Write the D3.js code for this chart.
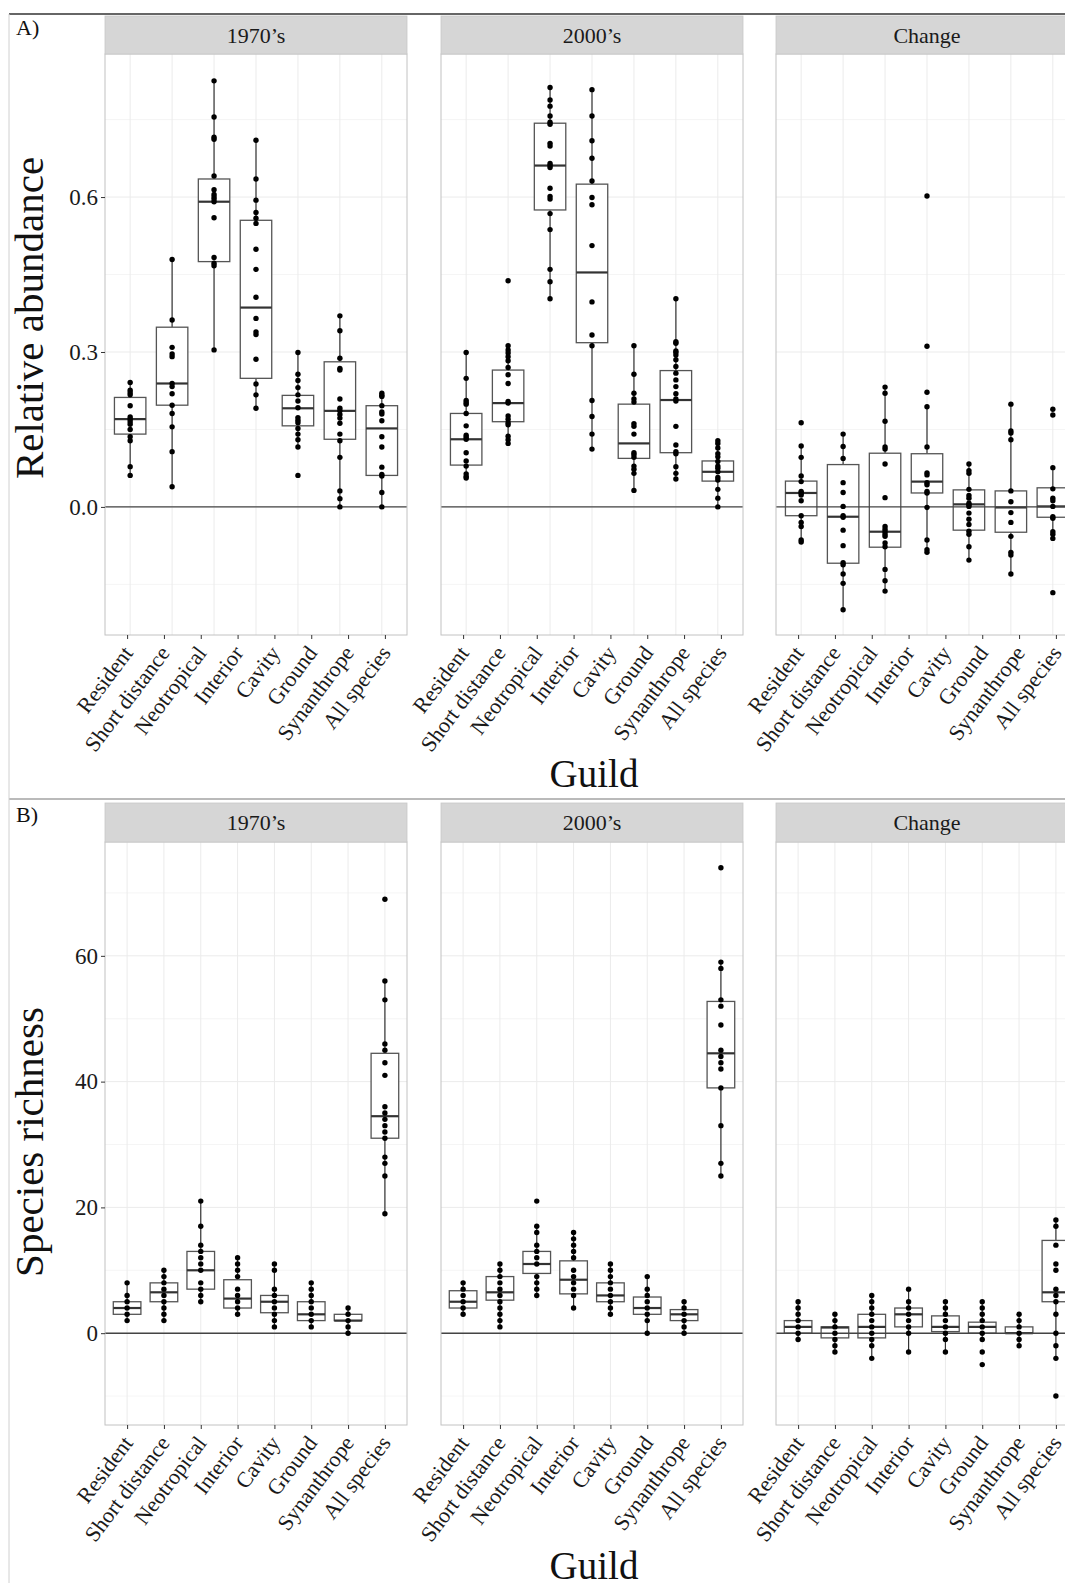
<!DOCTYPE html>
<html><head><meta charset="utf-8">
<script src="https://cdn.jsdelivr.net/npm/d3@7"></script>
<style>body{margin:0;background:#fff;overflow:hidden} svg{display:block;overflow:hidden}</style>
</head><body><svg id="c" width="1065" height="1583"></svg>
<script>
// ---------------- DATA ----------------
const guildsAll = ["Resident","Short distance","Neotropical","Interior","Cavity","Ground","Synanthrope","All species"];
const guildsAbund = ["Resident","Short distance","Neotropical","Interior","Cavity","Ground","Synanthrope"];
const facetLabels = ["1970\u2019s","2000\u2019s","Change"];
const abundTicks = [0, 0.3, 0.6];
const abundMinor = [-0.15, 0.15, 0.45, 0.75];
const richTicks = [0, 20, 40, 60];
const richMinor = [-10, 10, 30, 50, 70];

// box stats: [lower whisker, q1, median, q3, upper whisker]
const abund1970Box = [[0.061,0.141,0.170,0.212,0.241],[0.039,0.197,0.239,0.348,0.479],[0.304,0.475,0.591,0.635,0.825],[0.191,0.249,0.386,0.555,0.710],[0.116,0.157,0.191,0.216,0.299],[0.0,0.131,0.186,0.281,0.370],[0.0,0.061,0.152,0.196,0.220]];
const abund1970Pts = [
 [0.241,0.226,0.221,0.217,0.196,0.174,0.170,0.165,0.160,0.150,0.136,0.128,0.078,0.061],
 [0.479,0.362,0.309,0.296,0.291,0.239,0.233,0.219,0.197,0.181,0.155,0.107,0.039],
 [0.825,0.755,0.716,0.712,0.641,0.614,0.605,0.600,0.596,0.591,0.560,0.483,0.472,0.467,0.304],
 [0.710,0.635,0.594,0.570,0.559,0.549,0.499,0.460,0.406,0.365,0.339,0.334,0.286,0.238,0.217,0.191],
 [0.299,0.257,0.245,0.231,0.217,0.205,0.192,0.173,0.168,0.163,0.152,0.141,0.130,0.116,0.061],
 [0.370,0.341,0.288,0.268,0.265,0.209,0.191,0.186,0.179,0.172,0.162,0.141,0.128,0.096,0.031,0.016,0.0],
 [0.220,0.216,0.214,0.196,0.184,0.180,0.167,0.136,0.116,0.077,0.063,0.060,0.028,0.0]];
const abund2000Box = [[0.056,0.081,0.131,0.181,0.299],[0.123,0.165,0.201,0.265,0.312],[0.403,0.575,0.661,0.743,0.812],[0.112,0.318,0.454,0.625,0.808],[0.032,0.094,0.123,0.199,0.312],[0.054,0.105,0.207,0.264,0.403],[0.0,0.050,0.068,0.089,0.128]];
const abund2000Pts = [
 [0.299,0.249,0.206,0.202,0.199,0.181,0.157,0.139,0.135,0.131,0.105,0.089,0.079,0.064,0.059,0.056],
 [0.438,0.312,0.304,0.298,0.291,0.283,0.270,0.256,0.239,0.204,0.201,0.176,0.170,0.163,0.159,0.137,0.130,0.123],
 [0.812,0.788,0.776,0.757,0.745,0.741,0.704,0.699,0.665,0.661,0.657,0.617,0.601,0.596,0.568,0.537,0.460,0.436,0.403],
 [0.808,0.757,0.709,0.675,0.631,0.599,0.585,0.506,0.397,0.333,0.312,0.206,0.175,0.141,0.112],
 [0.312,0.257,0.220,0.209,0.203,0.161,0.156,0.141,0.105,0.101,0.096,0.079,0.073,0.065,0.032],
 [0.403,0.320,0.317,0.302,0.299,0.294,0.285,0.272,0.259,0.246,0.233,0.219,0.209,0.205,0.156,0.120,0.107,0.103,0.078,0.065,0.054],
 [0.128,0.123,0.114,0.103,0.097,0.088,0.079,0.075,0.068,0.057,0.052,0.034,0.017,0.0]];
const abundChangeBox = [[-0.068,-0.017,0.027,0.050,0.118],[-0.199,-0.109,-0.019,0.082,0.141],[-0.163,-0.078,-0.048,0.104,0.232],[-0.088,0.027,0.049,0.103,0.194],[-0.103,-0.045,0.005,0.033,0.083],[-0.130,-0.049,-0.001,0.031,0.199],[-0.061,-0.020,0.001,0.037,0.076]];
const abundChangePts = [
 [0.163,0.118,0.096,0.060,0.049,0.030,0.027,0.023,0.012,-0.017,-0.030,-0.038,-0.064,-0.068],
 [0.141,0.117,0.094,0.047,0.028,0.001,-0.017,-0.020,-0.045,-0.075,-0.108,-0.112,-0.130,-0.148,-0.199],
 [0.232,0.220,0.166,0.116,0.112,0.083,0.018,-0.038,-0.043,-0.048,-0.053,-0.057,-0.070,-0.077,-0.121,-0.143,-0.163],
 [0.602,0.311,0.222,0.194,0.116,0.066,0.062,0.047,0.043,0.030,0.027,-0.001,-0.064,-0.083,-0.088],
 [0.083,0.070,0.065,0.034,0.022,0.017,0.007,0.004,0.001,-0.012,-0.024,-0.034,-0.047,-0.053,-0.077,-0.103],
 [0.199,0.147,0.143,0.130,0.031,0.010,-0.011,-0.030,-0.057,-0.088,-0.093,-0.130],
 [0.189,0.178,0.076,0.035,0.017,0.012,0.001,-0.019,-0.022,-0.048,-0.053,-0.061,-0.166]];

const rich1970Box = [[2,3,4,5,8],[2,5,6.5,8,10],[5,7,10,13,21],[3,4,5.5,8.5,12],[1,3.25,5,6,11],[1,2,3,5,8],[0,2,2,3,4],[19,31,34.5,44.5,56]];
const rich1970Pts = [[8,6,5,4,3,2],[10,9,8,7,6,5,4,3,2],[21,17,14,13,12,11,10,8,7,6,5],[12,11,10,9,7,6,5,4,3],[11,10,7,6,5,4,3,2,1],[8,7,6,5,4,3,2,1],[4,3,2,1,0],[69,56,53,46,45,43,41,36,35,34,33,32,31,28,27,25,19]];
const rich2000Box = [[3,4,5,6.75,8],[1,5.25,6.5,9,11],[6,9.5,11,13,17],[4,6.25,8.5,11.5,16],[3,5,6,8,11],[0,3,4,5.75,9],[0,2,3,3.75,5],[25,39,44.5,52.75,59]];
const rich2000Pts = [[8,7,6,5,4,3],[11,10,9,8,7,6,5,4,3,2,1],[21,17,16,14,13,12,11,9,8,7,6],[16,15,14,13,12,10,9,8,7,6,4],[11,10,9,8,7,6,5,4,3],[9,7,6,5,4,3,2,0],[5,4,3,2,1,0],[74,59,58,53,52,49,45,44,43,42,39,33,27,25]];
const richChangeBox = [[-1,0,1,2,5],[-3,-0.75,0.9,1,3],[-4,-0.75,1,3,6],[-3,1,3,4,7],[-3,0.25,1,2.75,5],[-1,0,1,1.75,5],[-2,0,0,1,3],[-4,5,6.5,14.75,18]];
const richChangePts = [[5,4,3,2,1,0,-1],[3,2,1,0,-1,-2,-3],[6,5,4,3,2,1,0,-1,-2,-4],[7,5,4,3,2,1,0,-3],[5,4,3,2,1,0,-1,-3],[5,4,3,2,1,0,-1,-3,-5],[3,2,1,0,-1,-2],[18,17,14,11,10,7,6,5,3,0,-2,-4,-10]];

// ---------------- LAYOUT ----------------
const svg = d3.select("#c");
const FONT = "'Liberation Serif','Times New Roman',serif";
const facetX = [105, 441, 776];
const PW = 302;

const rows = [
  {tag:"A)", tagY:35, stripTop:16, plotTop:54, plotBottom:635,
   domain:[-0.248, 0.877], ticks:abundTicks, minor:abundMinor, fmt:d3.format(".1f"),
   cats:guildsAbund, title:"Relative abundance", titleY:318, guildY:787,
   facets:[[abund1970Box,abund1970Pts],[abund2000Box,abund2000Pts],[abundChangeBox,abundChangePts]]},
  {tag:"B)", tagY:822, stripTop:803, plotTop:842, plotBottom:1425,
   domain:[-14.6, 78.1], ticks:richTicks, minor:richMinor, fmt:d3.format("d"),
   cats:guildsAll, title:"Species richness", titleY:1142, guildY:1579,
   facets:[[rich1970Box,rich1970Pts],[rich2000Box,rich2000Pts],[richChangeBox,richChangePts]]}
];

// outer frame
svg.append("line").attr("x1",9).attr("x2",1065).attr("y1",14).attr("y2",14).attr("stroke","#333").attr("stroke-width",1.5);
svg.append("line").attr("x1",9).attr("x2",1065).attr("y1",799).attr("y2",799).attr("stroke","#777").attr("stroke-width",1.2);
svg.append("line").attr("x1",9).attr("x2",9).attr("y1",14).attr("y2",1583).attr("stroke","#d0d0d0").attr("stroke-width",1);

rows.forEach(row => {
  const y = d3.scaleLinear().domain(row.domain).range([row.plotBottom, row.plotTop]);
  const g = svg.append("g");
  g.append("text").attr("x",16).attr("y",row.tagY).attr("font-family",FONT).attr("font-size",22).attr("fill","#111").text(row.tag);
  g.append("text").attr("transform",`translate(43,${row.titleY}) rotate(-90)`).attr("text-anchor","middle")
    .attr("font-family",FONT).attr("font-size",41).attr("fill","#111").text(row.title);
  g.append("text").attr("x",594).attr("y",row.guildY).attr("text-anchor","middle")
    .attr("font-family",FONT).attr("font-size",39).attr("fill","#111").text("Guild");

  row.facets.forEach((fd, fi) => {
    const [boxes, pts] = fd;
    const x0 = facetX[fi];
    const xm = d3.scalePoint().domain(row.cats).range([x0, x0+PW]).padding(0.6);
    const xt = d3.scalePoint().domain(guildsAll).range([x0, x0+PW]).padding(0.6);
    const bw = xm.step()*0.75;
    const p = g.append("g");
    // grid
    p.selectAll(".mn").data(row.minor).join("line").attr("x1",x0).attr("x2",x0+PW)
      .attr("y1",d=>y(d)).attr("y2",d=>y(d)).attr("stroke","#f3f3f3").attr("stroke-width",0.8);
    p.selectAll(".mj").data(row.ticks).join("line").attr("x1",x0).attr("x2",x0+PW)
      .attr("y1",d=>y(d)).attr("y2",d=>y(d)).attr("stroke","#ebebeb").attr("stroke-width",1);
    p.selectAll(".vg").data(row.cats).join("line").attr("x1",d=>xm(d)).attr("x2",d=>xm(d))
      .attr("y1",row.plotTop).attr("y2",row.plotBottom).attr("stroke","#ebebeb").attr("stroke-width",1);
    // boxes
    const bg = p.selectAll(".bx").data(boxes).join("g");
    bg.append("line").attr("x1",(d,i)=>xm(row.cats[i])).attr("x2",(d,i)=>xm(row.cats[i]))
      .attr("y1",d=>y(d[4])).attr("y2",d=>y(d[3])).attr("stroke","#333").attr("stroke-width",1.2);
    bg.append("line").attr("x1",(d,i)=>xm(row.cats[i])).attr("x2",(d,i)=>xm(row.cats[i]))
      .attr("y1",d=>y(d[1])).attr("y2",d=>y(d[0])).attr("stroke","#333").attr("stroke-width",1.2);
    bg.append("rect").attr("x",(d,i)=>xm(row.cats[i])-bw/2).attr("width",bw)
      .attr("y",d=>y(d[3])).attr("height",d=>y(d[1])-y(d[3]))
      .attr("fill","#fff").attr("stroke","#555").attr("stroke-width",1.3);
    bg.append("line").attr("x1",(d,i)=>xm(row.cats[i])-bw/2).attr("x2",(d,i)=>xm(row.cats[i])+bw/2)
      .attr("y1",d=>y(d[2])).attr("y2",d=>y(d[2])).attr("stroke","#333").attr("stroke-width",2.2);
    // zero line
    p.append("line").attr("x1",x0).attr("x2",x0+PW).attr("y1",y(0)).attr("y2",y(0)).attr("stroke","#444").attr("stroke-width",1.4);
    // points
    pts.forEach((arr, ci) => {
      p.selectAll(null).data(arr).join("circle").attr("cx",xm(row.cats[ci])).attr("cy",d=>y(d))
        .attr("r",2.7).attr("fill","#000");
    });
    // border
    p.append("rect").attr("x",x0).attr("y",row.plotTop).attr("width",PW).attr("height",row.plotBottom-row.plotTop)
      .attr("fill","none").attr("stroke","#c2c2c2").attr("stroke-width",1);
    // strip
    p.append("rect").attr("x",x0).attr("y",row.stripTop).attr("width",PW).attr("height",row.plotTop-row.stripTop)
      .attr("fill","#d6d6d6").attr("stroke","#c8c8c8").attr("stroke-width",0.8);
    p.append("text").attr("x",x0+PW/2).attr("y",(row.stripTop+row.plotTop)/2).attr("dy","0.35em")
      .attr("text-anchor","middle").attr("font-family",FONT).attr("font-size",22).attr("fill","#1a1a1a").text(facetLabels[fi]);
    // x axis
    const ax = p.append("g").attr("transform",`translate(0,${row.plotBottom})`)
      .call(d3.axisBottom(xt).tickSize(4).tickSizeOuter(0));
    ax.select(".domain").remove();
    ax.selectAll(".tick line").attr("stroke","#333");
    ax.selectAll(".tick text").attr("font-family",FONT).attr("font-size",22).attr("fill","#1a1a1a")
      .attr("text-anchor","end").attr("y",0).attr("dy","0.7em")
      .attr("transform","translate(-6,9) rotate(-53)");
    // y axis
    if (fi === 0) {
      const ay = p.append("g").attr("transform",`translate(${x0},0)`)
        .call(d3.axisLeft(y).tickValues(row.ticks).tickFormat(row.fmt).tickSize(4).tickSizeOuter(0));
      ay.select(".domain").remove();
      ay.selectAll(".tick line").attr("stroke","#333");
      ay.selectAll(".tick text").attr("font-family",FONT).attr("font-size",23).attr("fill","#1a1a1a").attr("x",-7);
    }
  });
});
</script></body></html>
